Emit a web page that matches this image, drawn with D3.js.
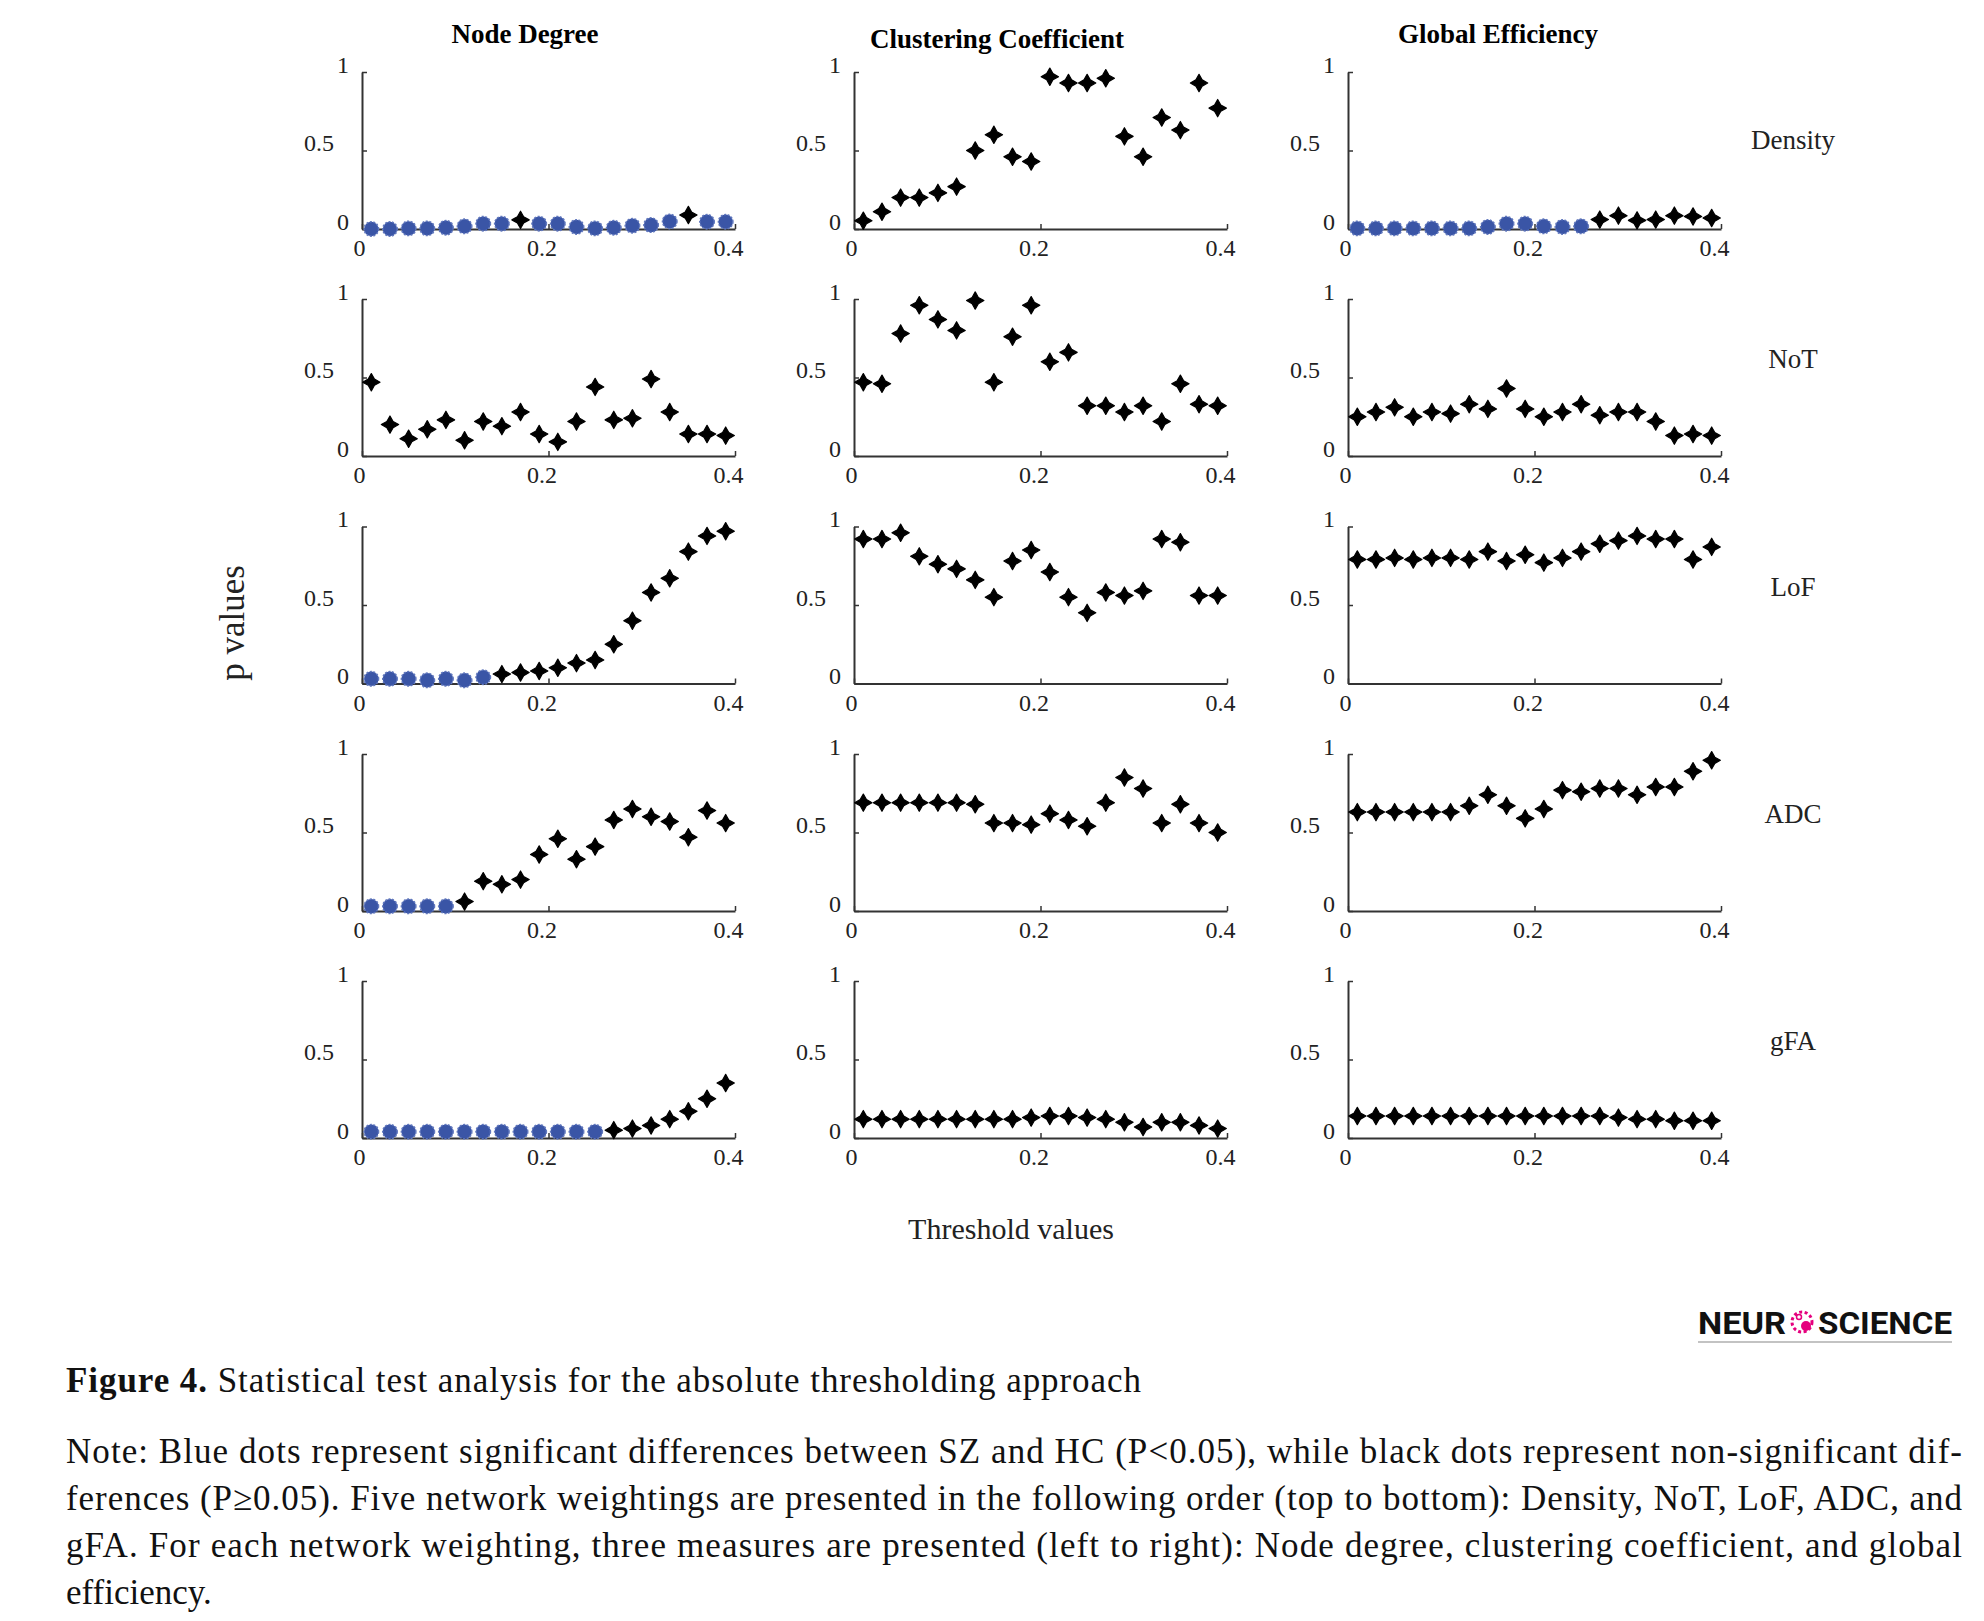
<!DOCTYPE html>
<html>
<head>
<meta charset="utf-8">
<script src="https://cdn.jsdelivr.net/npm/d3@7"></script>
<style>
  body { margin: 0; background: #fff; }
  text { font-family: "Liberation Serif", "Times New Roman", serif; }
</style>
</head>
<body>
<svg id="fig"></svg>
<script>
// thresholds (x) shared by every panel
var thresholds = [0.01, 0.03, 0.05, 0.07, 0.09, 0.11, 0.13, 0.15, 0.17, 0.19,
                  0.21, 0.23, 0.25, 0.27, 0.29, 0.31, 0.33, 0.35, 0.37, 0.39];

var measures = ["Node Degree", "Clustering Coefficient", "Global Efficiency"];
var weightings = ["Density", "NoT", "LoF", "ADC", "gFA"];
var xTicks = [0, 0.2, 0.4];
var yTicks = [0, 0.5, 1];

// p values
var ndDensity = [0.00, 0.00, 0.004, 0.004, 0.008, 0.017, 0.034, 0.034, 0.058, 0.034,
                 0.034, 0.013, 0.004, 0.008, 0.021, 0.025, 0.048, 0.089, 0.046, 0.046];
var ccDensity = [0.053, 0.11, 0.20, 0.20, 0.23, 0.27, 0.50, 0.60, 0.46, 0.43,
                 0.97, 0.93, 0.93, 0.96, 0.59, 0.46, 0.71, 0.63, 0.93, 0.77];
var geDensity = [0.004, 0.004, 0.004, 0.004, 0.004, 0.004, 0.004, 0.013, 0.034, 0.034,
                 0.017, 0.013, 0.017, 0.06, 0.085, 0.055, 0.06, 0.085, 0.08, 0.07];

var ndNoT = [0.47, 0.20, 0.11, 0.17, 0.23, 0.10, 0.22, 0.19, 0.28, 0.14,
             0.09, 0.22, 0.44, 0.23, 0.24, 0.49, 0.28, 0.14, 0.14, 0.13];
var ccNoT = [0.47, 0.46, 0.78, 0.96, 0.87, 0.80, 0.99, 0.47, 0.76, 0.96,
             0.60, 0.66, 0.32, 0.32, 0.28, 0.32, 0.22, 0.46, 0.33, 0.32];
var geNoT = [0.25, 0.28, 0.31, 0.25, 0.28, 0.27, 0.33, 0.30, 0.43, 0.30,
             0.25, 0.28, 0.33, 0.26, 0.28, 0.28, 0.22, 0.13, 0.14, 0.13];

var ndLoF = [0.03, 0.03, 0.03, 0.02, 0.03, 0.02, 0.04, 0.06, 0.07, 0.08,
             0.10, 0.13, 0.15, 0.25, 0.40, 0.58, 0.67, 0.84, 0.94, 0.97];
var ccLoF = [0.92, 0.92, 0.96, 0.81, 0.76, 0.73, 0.66, 0.55, 0.78, 0.85,
             0.71, 0.55, 0.45, 0.58, 0.56, 0.59, 0.92, 0.90, 0.56, 0.56];
var geLoF = [0.79, 0.79, 0.80, 0.79, 0.80, 0.80, 0.79, 0.84, 0.78, 0.82,
             0.77, 0.80, 0.84, 0.89, 0.91, 0.94, 0.92, 0.92, 0.79, 0.87];

var ndADC = [0.03, 0.03, 0.03, 0.03, 0.03, 0.06, 0.19, 0.17, 0.20, 0.36,
             0.46, 0.33, 0.41, 0.58, 0.65, 0.60, 0.57, 0.47, 0.64, 0.56];
var ccADC = [0.69, 0.69, 0.69, 0.69, 0.69, 0.69, 0.68, 0.56, 0.56, 0.55,
             0.62, 0.58, 0.54, 0.69, 0.85, 0.78, 0.56, 0.68, 0.56, 0.50];
var geADC = [0.63, 0.63, 0.63, 0.63, 0.63, 0.63, 0.67, 0.74, 0.67, 0.59,
             0.65, 0.77, 0.76, 0.78, 0.78, 0.74, 0.79, 0.79, 0.89, 0.96];

var ndGFA = [0.04, 0.04, 0.04, 0.04, 0.04, 0.04, 0.04, 0.04, 0.04, 0.04,
             0.04, 0.04, 0.04, 0.05, 0.06, 0.08, 0.12, 0.17, 0.25, 0.35];
var ccGFA = [0.12, 0.12, 0.12, 0.12, 0.12, 0.12, 0.12, 0.12, 0.12, 0.13,
             0.14, 0.14, 0.13, 0.12, 0.10, 0.07, 0.10, 0.10, 0.08, 0.06];
var geGFA = [0.14, 0.14, 0.14, 0.14, 0.14, 0.14, 0.14, 0.14, 0.14, 0.14,
             0.14, 0.14, 0.14, 0.14, 0.13, 0.12, 0.12, 0.11, 0.11, 0.11];

// rows = weightings, columns = measures
var grid = [
    [ndDensity, ccDensity, geDensity],
    [ndNoT, ccNoT, geNoT],
    [ndLoF, ccLoF, geLoF],
    [ndADC, ccADC, geADC],
    [ndGFA, ccGFA, geGFA]
];

var noteLines = [
    "Note: Blue dots represent significant differences between SZ and HC (P<0.05), while black dots represent non-significant dif-",
    "ferences (P\u22650.05). Five network weightings are presented in the following order (top to bottom): Density, NoT, LoF, ADC, and",
    "gFA. For each network weighting, three measures are presented (left to right): Node degree, clustering coefficient, and global",
    "efficiency."
];

var width = 1984, height = 1621;
var colX = [362, 854, 1348];
var rowY = [72, 299, 526.5, 754, 981];
var plotW = 373, plotH = 157;

var svg = d3.select("#fig")
    .attr("width", width)
    .attr("height", height);

var x = d3.scaleLinear().domain([0, 0.4]).range([0, plotW]);
var y = d3.scaleLinear().domain([0, 1]).range([plotH, 0]);

// 4 point star, like the matlab markers
var star4 = {
    draw: function(ctx, size) {
        var r = Math.sqrt(size) / 2, ri = r * 0.36;
        ctx.moveTo(0, -r);
        ctx.lineTo(ri, -ri);
        ctx.lineTo(r, 0);
        ctx.lineTo(ri, ri);
        ctx.lineTo(0, r);
        ctx.lineTo(-ri, ri);
        ctx.lineTo(-r, 0);
        ctx.lineTo(-ri, -ri);
        ctx.closePath();
    }
};
var blackMark = d3.symbol(star4, 300);
var blueMark = d3.symbol(d3.symbolCircle, 165);

grid.forEach(function(row, r) {
    row.forEach(function(vals, c) {
        var g = svg.append("g")
            .attr("transform", "translate(" + colX[c] + "," + rowY[r] + ")");

        var pts = thresholds.map(function(t, i) { return {t: t, p: vals[i]}; });

        var yAxis = g.append("g")
            .call(d3.axisLeft(y).tickValues(yTicks).tickSizeInner(-5).tickSizeOuter(0)
                .tickFormat(d3.format("")));
        yAxis.select(".domain").attr("stroke", "#333").attr("stroke-width", 2);
        yAxis.selectAll(".tick line").attr("stroke", "#333").attr("stroke-width", 1.5);
        yAxis.selectAll(".tick text")
            .attr("x", function(d) { return d === 0.5 ? -28 : -13; })
            .attr("dy", "0")
            .attr("fill", "#222")
            .style("font-size", "24px");

        var xAxis = g.append("g")
            .attr("transform", "translate(0," + plotH + ")")
            .call(d3.axisBottom(x).tickValues(xTicks).tickSizeInner(-5).tickSizeOuter(0)
                .tickFormat(d3.format("")));
        xAxis.select(".domain").attr("stroke", "#333").attr("stroke-width", 2);
        xAxis.selectAll(".tick line").attr("stroke", "#333").attr("stroke-width", 1.5);
        xAxis.selectAll(".tick text")
            .attr("y", 27)
            .attr("dy", "0")
            .attr("dx", function(d) { return d === 0 ? -3 : -7; })
            .attr("fill", "#222")
            .style("font-size", "24px");

        g.selectAll(".mark")
            .data(pts)
            .enter()
            .append("path")
            .attr("class", "mark")
            .attr("transform", function(d) { return "translate(" + x(d.t) + "," + y(d.p) + ")"; })
            .attr("d", function(d) { return d.p < 0.05 ? blueMark() : blackMark(); })
            .attr("fill", function(d) { return d.p < 0.05 ? "#3a55a6" : "#000"; })
            .attr("stroke", function(d) { return d.p < 0.05 ? "#6077bd" : "#000"; })
            .attr("stroke-width", function(d) { return d.p < 0.05 ? 1.5 : 1.2; })
            .attr("stroke-linejoin", "round")
            .attr("stroke-dasharray", function(d) { return d.p < 0.05 ? "2,1.6" : null; });
    });
});

// column titles
svg.selectAll(".coltitle")
    .data(measures)
    .enter()
    .append("text")
    .attr("class", "coltitle")
    .attr("x", function(d, i) { return colX[i] + [163, 143, 150][i]; })
    .attr("y", function(d, i) { return i === 1 ? 48 : 43; })
    .attr("text-anchor", "middle")
    .style("font-size", "27px")
    .style("font-weight", "bold")
    .text(function(d) { return d; });

// row labels
svg.selectAll(".rowlabel")
    .data(weightings)
    .enter()
    .append("text")
    .attr("class", "rowlabel")
    .attr("x", 1793)
    .attr("y", function(d, i) { return rowY[i] + (i === 0 ? 77 : 69); })
    .attr("text-anchor", "middle")
    .attr("fill", "#222")
    .style("font-size", "27px")
    .text(function(d) { return d; });

svg.append("text")
    .attr("transform", "translate(244,623) rotate(-90)")
    .attr("text-anchor", "middle")
    .attr("fill", "#222")
    .style("font-size", "35px")
    .text("p values");

svg.append("text")
    .attr("x", 1011)
    .attr("y", 1239)
    .attr("text-anchor", "middle")
    .attr("fill", "#222")
    .style("font-size", "30px")
    .text("Threshold values");

// journal logo
var logo = svg.append("g");
logo.append("text")
    .attr("x", 1786).attr("y", 1334)
    .attr("text-anchor", "end")
    .attr("textLength", 88).attr("lengthAdjust", "spacingAndGlyphs")
    .style("font-family", "Roboto, 'DejaVu Sans', sans-serif")
    .style("font-weight", "bold").style("font-size", "31px")
    .attr("fill", "#111")
    .text("NEUR");
logo.append("text")
    .attr("x", 1818).attr("y", 1334)
    .attr("textLength", 134).attr("lengthAdjust", "spacingAndGlyphs")
    .style("font-family", "Roboto, 'DejaVu Sans', sans-serif")
    .style("font-weight", "bold").style("font-size", "31px")
    .attr("fill", "#111")
    .text("SCIENCE");
logo.append("circle").attr("cx", 1802).attr("cy", 1322).attr("r", 10)
    .attr("fill", "none").attr("stroke", "#e5007e").attr("stroke-width", 3)
    .attr("stroke-dasharray", "3,2.5");
logo.append("circle").attr("cx", 1806).attr("cy", 1326).attr("r", 5).attr("fill", "#e5007e");
logo.append("circle").attr("cx", 1799).attr("cy", 1317).attr("r", 2.5).attr("fill", "#fff")
    .attr("stroke", "#e5007e").attr("stroke-width", 1.5);
logo.append("line")
    .attr("x1", 1698).attr("x2", 1952).attr("y1", 1342).attr("y2", 1342)
    .attr("stroke", "#888").attr("stroke-width", 1.2);

// caption
var cap = svg.append("text")
    .attr("x", 66).attr("y", 1392)
    .attr("fill", "#111")
    .attr("textLength", 1075).attr("lengthAdjust", "spacing")
    .style("font-size", "35px");
cap.append("tspan").style("font-weight", "bold").text("Figure 4.");
cap.append("tspan").text(" Statistical test analysis for the absolute thresholding approach");

svg.selectAll(".note")
    .data(noteLines)
    .enter()
    .append("text")
    .attr("class", "note")
    .attr("x", 66)
    .attr("y", function(d, i) { return 1463 + i * 47; })
    .attr("fill", "#111")
    .attr("textLength", function(d, i) { return i < 3 ? 1896 : null; })
    .attr("lengthAdjust", "spacing")
    .style("font-size", "35px")
    .text(function(d) { return d; });
</script>
</body>
</html>
